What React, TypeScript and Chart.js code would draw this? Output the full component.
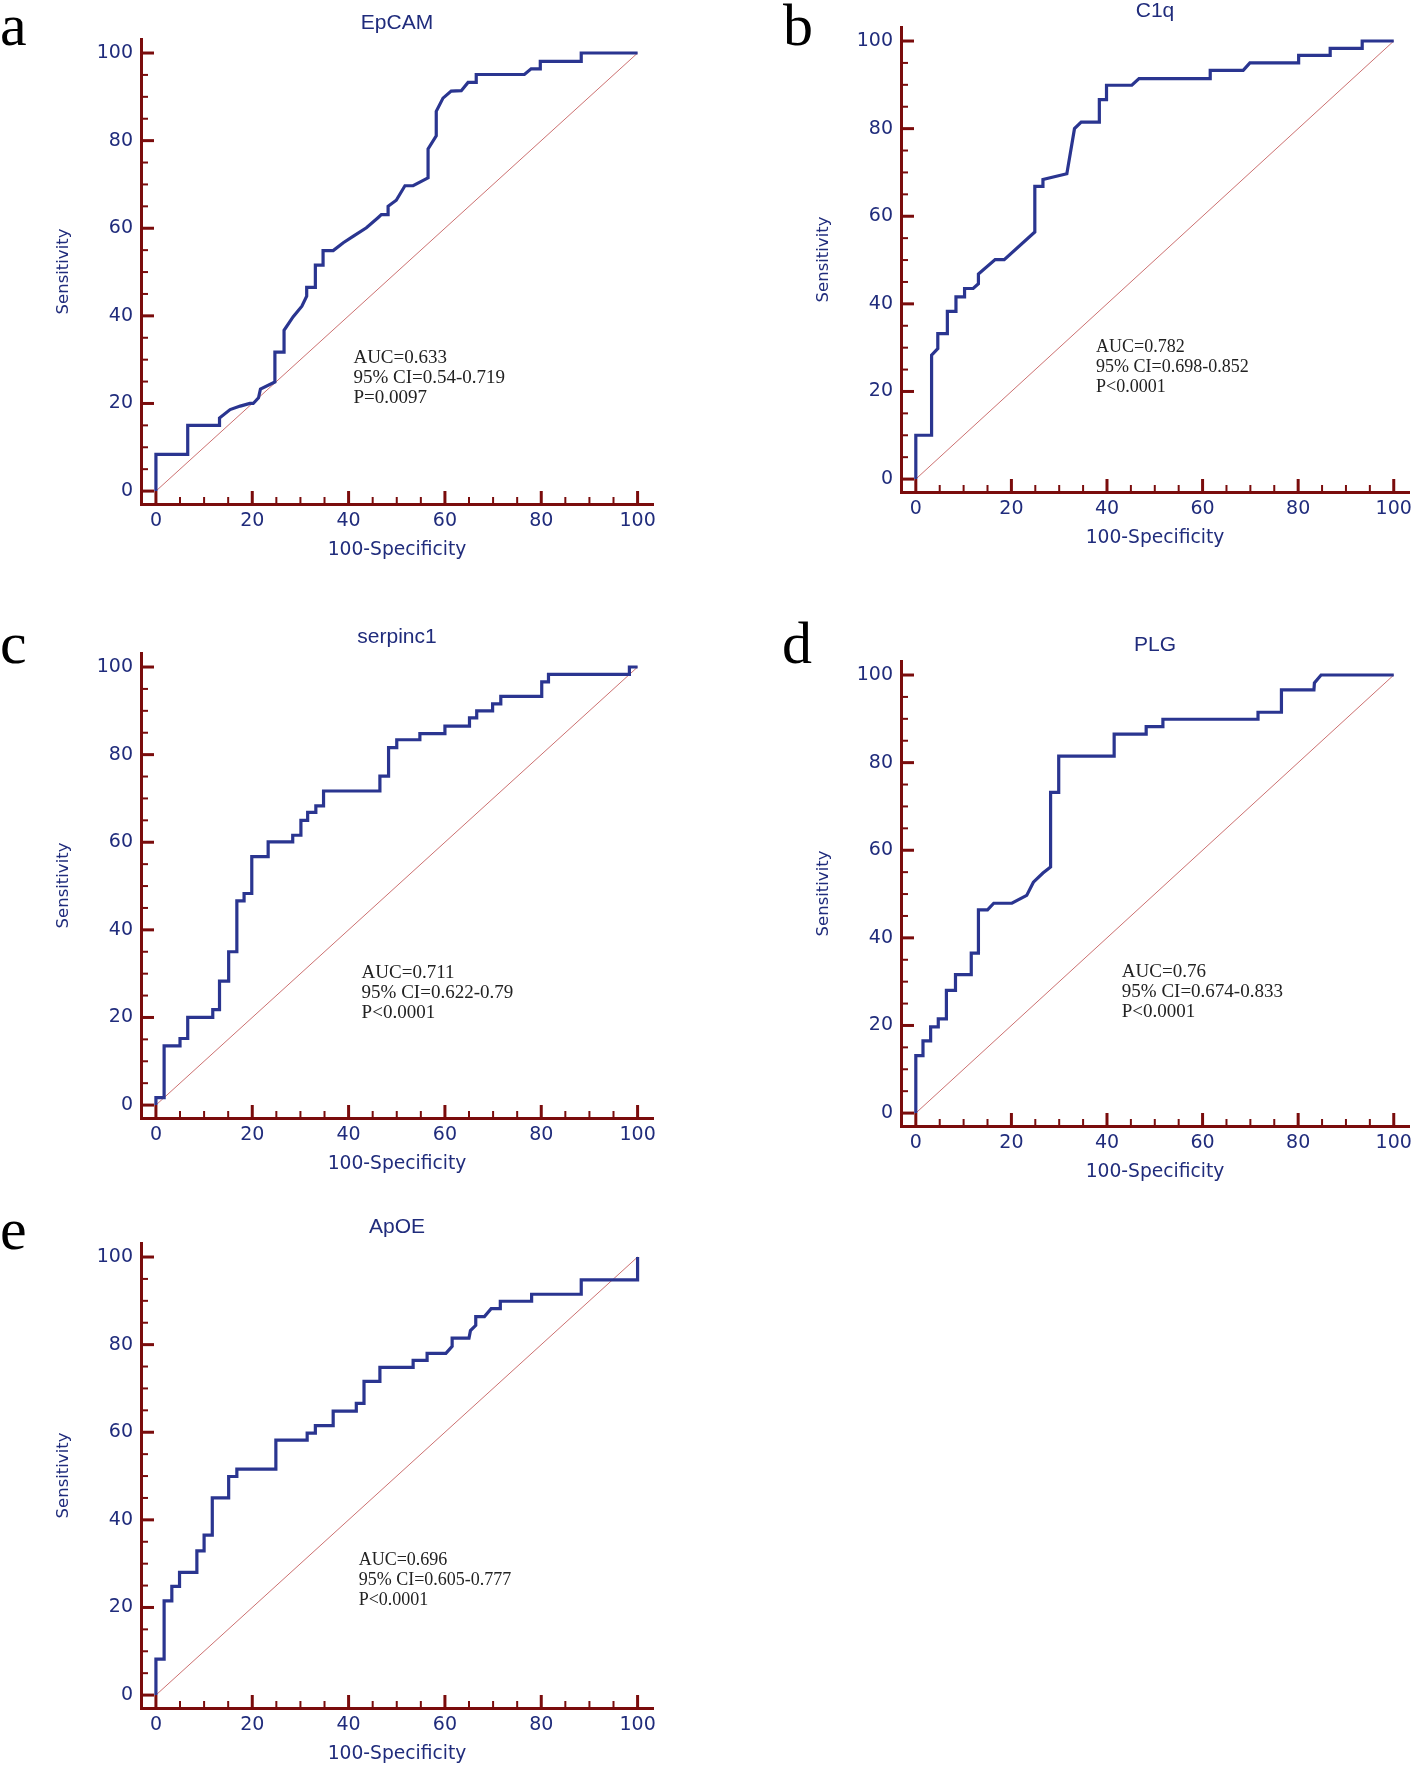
import React, { useEffect, useRef } from "react";
import { Chart, registerables } from "chart.js";

Chart.register(...registerables);

// ---------- data ----------
const tickValues = [0, 20, 40, 60, 80, 100];
const minorStep = 5;

const panelLetters = ["a", "b", "c", "d", "e"];
const panelTitles = ["EpCAM", "C1q", "serpinc1", "PLG", "ApOE"];
const aucTexts = ["AUC=0.633", "AUC=0.782", "AUC=0.711", "AUC=0.76", "AUC=0.696"];
const ciTexts = ["95% CI=0.54-0.719", "95% CI=0.698-0.852", "95% CI=0.622-0.79", "95% CI=0.674-0.833", "95% CI=0.605-0.777"];
const pTexts = ["P=0.0097", "P<0.0001", "P<0.0001", "P<0.0001", "P<0.0001"];

const epcamX = [0, 0, 6.6, 6.6, 13.2, 13.2, 15.4, 17.5, 19.5, 20.2, 21.3, 21.7, 24.7, 24.7, 26.6, 26.6, 28.5, 30.3, 31.3, 31.3, 33.1, 33.1, 34.7, 34.7, 36.8, 38.9, 41, 43.7, 46.1, 46.8, 48.2, 48.2, 49.9, 51.7, 53.4, 56.5, 56.5, 58.2, 58.2, 59.6, 61.3, 63.4, 64.8, 66.5, 66.5, 76.5, 77.9, 79.8, 79.8, 88.3, 88.3, 100];
const epcamY = [0, 8.4, 8.4, 15, 15, 16.7, 18.6, 19.4, 20, 20, 21.3, 23.3, 24.9, 31.7, 31.7, 36.7, 39.8, 42.2, 44.5, 46.5, 46.5, 51.6, 51.6, 54.9, 54.9, 56.7, 58.2, 60.1, 62.4, 63.1, 63.1, 65, 66.4, 69.7, 69.7, 71.5, 78.1, 81.1, 86.7, 89.7, 91.3, 91.4, 93.3, 93.3, 95.1, 95.1, 96.4, 96.4, 98.1, 98.1, 100, 100];

const c1qX = [0, 0, 3.3, 3.3, 4.6, 4.6, 6.6, 6.6, 8.4, 8.4, 10.2, 10.2, 12, 13.1, 13.1, 16.6, 18.5, 24.9, 24.9, 26.6, 26.6, 31.6, 33.2, 34.6, 38.4, 38.4, 39.9, 39.9, 45.2, 46.7, 61.6, 61.6, 68.5, 69.9, 80.1, 80.1, 86.7, 86.7, 93.4, 93.4, 100];
const c1qY = [0, 10, 10, 28.3, 29.8, 33.2, 33.2, 38.3, 38.3, 41.6, 41.6, 43.5, 43.5, 44.6, 46.8, 50.1, 50.1, 56.4, 66.8, 66.8, 68.4, 69.7, 80, 81.5, 81.5, 86.6, 86.6, 89.9, 89.9, 91.4, 91.4, 93.3, 93.3, 95, 95, 96.7, 96.7, 98.3, 98.3, 100, 100];

const serpinc1X = [0, 0, 1.7, 1.7, 5, 5, 6.6, 6.6, 11.8, 11.8, 13.2, 13.2, 15.1, 15.1, 16.8, 16.8, 18.3, 18.3, 19.9, 19.9, 23.3, 23.3, 28.4, 28.4, 30.1, 30.1, 31.5, 31.5, 33.2, 33.2, 34.8, 34.8, 46.5, 46.5, 48.3, 48.3, 50, 50, 54.8, 54.8, 60, 60, 65.1, 65.1, 66.6, 66.6, 69.9, 69.9, 71.6, 71.6, 80.1, 80.1, 81.5, 81.5, 98.3, 98.3, 100];
const serpinc1Y = [0, 1.7, 1.7, 13.5, 13.5, 15.2, 15.2, 20, 20, 21.8, 21.8, 28.3, 28.3, 35, 35, 46.6, 46.6, 48.3, 48.3, 56.7, 56.7, 60.1, 60.1, 61.6, 61.6, 65, 65, 66.8, 66.8, 68.3, 68.3, 71.7, 71.7, 75.1, 75.1, 81.6, 81.6, 83.4, 83.4, 84.8, 84.8, 86.5, 86.5, 88.4, 88.4, 90, 90, 91.6, 91.6, 93.3, 93.3, 96.6, 96.6, 98.3, 98.3, 100, 100];

const plgX = [0, 0, 1.5, 1.5, 3.1, 3.1, 4.7, 4.7, 6.4, 6.4, 8.3, 8.3, 11.6, 11.6, 13.1, 13.1, 15, 16.3, 20.1, 23.2, 24.6, 26.6, 28.2, 28.2, 29.9, 29.9, 41.5, 41.5, 48.2, 48.2, 51.7, 51.7, 71.6, 71.6, 76.5, 76.5, 83.3, 83.4, 84.8, 100];
const plgY = [0, 13.1, 13.1, 16.5, 16.5, 19.7, 19.7, 21.5, 21.5, 28, 28, 31.6, 31.6, 36.5, 36.5, 46.4, 46.4, 47.9, 47.9, 49.7, 52.7, 54.8, 56.2, 73.2, 73.2, 81.5, 81.5, 86.5, 86.5, 88.2, 88.2, 89.9, 89.9, 91.5, 91.5, 96.6, 96.6, 98.2, 100, 100];

const apoeX = [0, 0, 1.7, 1.7, 3.3, 3.3, 4.9, 4.9, 8.5, 8.5, 10, 10, 11.7, 11.7, 15.1, 15.1, 16.8, 16.8, 24.9, 24.9, 31.4, 31.4, 33.1, 33.1, 36.8, 36.8, 41.6, 41.6, 43.2, 43.2, 46.5, 46.5, 53.4, 53.4, 56.3, 56.3, 60.2, 61.5, 61.5, 65, 65.3, 66.4, 66.4, 68.2, 69.6, 71.5, 71.5, 78, 78, 88.3, 88.3, 100, 100];
const apoeY = [0, 8.2, 8.2, 21.5, 21.5, 24.8, 24.8, 28, 28, 32.9, 32.9, 36.5, 36.5, 45, 45, 49.9, 49.9, 51.6, 51.6, 58.2, 58.2, 59.8, 59.8, 61.5, 61.5, 64.8, 64.8, 66.6, 66.6, 71.6, 71.6, 74.8, 74.8, 76.4, 76.4, 78, 78, 79.6, 81.5, 81.5, 83.2, 84.4, 86.4, 86.4, 88.2, 88.2, 89.9, 89.9, 91.5, 91.5, 94.8, 94.8, 100];

const curveXs = [epcamX, c1qX, serpinc1X, plgX, apoeX];
const curveYs = [epcamY, c1qY, serpinc1Y, plgY, apoeY];
const diagX = [0, 100];
const diagY = [0, 100];

// ---------- layout & style ----------
const NAVY = "#202C7C";
const CURVE = "#2A3590";
const MAROON = "#7A0C0C";
const DIAG = "rgba(198,96,96,0.9)";

const CW = 709;
const CH = 565;
const panels = [
  { left: 0, top: -1, padL: 41, padR: 56, letter: [0, 45], ann: [41, 29.3], annSize: 19 },
  { left: 709, top: -13, padL: 92, padR: 4, letter: [783, 45], ann: [37.7, 29.0], annSize: 18 },
  { left: 0, top: 613, padL: 41, padR: 56, letter: [0, 663], ann: [42.7, 28.9], annSize: 19 },
  { left: 709, top: 621, padL: 92, padR: 4, letter: [782, 663], ann: [43.1, 31.0], annSize: 19 },
  { left: 0, top: 1203, padL: 41, padR: 56, letter: [0, 1249], ann: [42.1, 29.6], annSize: 18 },
];

function RocPanel({ index }: { index: number }) {
  const ref = useRef<HTMLCanvasElement | null>(null);
  const cfg = panels[index];

  useEffect(() => {
    if (!ref.current) return;
    const xs = curveXs[index];
    const ys = curveYs[index];
    const curve = xs.map((x, i) => ({ x, y: ys[i] }));
    const diag = diagX.map((x, i) => ({ x, y: diagY[i] }));

    const decor = {
      id: "decor" + index,
      beforeDatasetsDraw(chart: any) {
        const { ctx, chartArea } = chart;
        const sx = chart.scales.x;
        const sy = chart.scales.y;
        ctx.save();
        ctx.strokeStyle = MAROON;
        for (let v = 0; v <= 100; v += minorStep) {
          const major = v % 20 === 0;
          ctx.lineWidth = major ? 3 : 2;
          const len = major ? 13 : 7;
          const px = sx.getPixelForValue(v);
          ctx.beginPath();
          ctx.moveTo(px, chartArea.bottom);
          ctx.lineTo(px, chartArea.bottom - len);
          ctx.stroke();
          const py = sy.getPixelForValue(v);
          ctx.beginPath();
          ctx.moveTo(chartArea.left, py);
          ctx.lineTo(chartArea.left + len, py);
          ctx.stroke();
        }
        ctx.restore();
      },
      afterDraw(chart: any) {
        const { ctx, chartArea } = chart;
        const sx = chart.scales.x;
        const sy = chart.scales.y;
        ctx.save();
        ctx.fillStyle = NAVY;
        ctx.font = "21px 'Liberation Sans', Arial, sans-serif";
        ctx.textAlign = "center";
        ctx.textBaseline = "alphabetic";
        ctx.fillText(panelTitles[index], (chartArea.left + chartArea.right) / 2, chartArea.top - 10);
        ctx.fillStyle = "#000";
        ctx.font = "60px 'Liberation Serif', 'Times New Roman', serif";
        ctx.textAlign = "left";
        ctx.fillText(panelLetters[index], cfg.letter[0] - cfg.left, cfg.letter[1] - cfg.top);
        ctx.fillStyle = "#222";
        ctx.font = cfg.annSize + "px 'Liberation Serif', 'Times New Roman', serif";
        const ax = sx.getPixelForValue(cfg.ann[0]);
        const ay = sy.getPixelForValue(cfg.ann[1]);
        [aucTexts[index], ciTexts[index], pTexts[index]].forEach((t, i) => {
          ctx.fillText(t, ax, ay + i * 20);
        });
        ctx.restore();
      },
    };

    const chart = new Chart(ref.current, {
      type: "line",
      data: {
        datasets: [
          { data: diag, borderColor: DIAG, borderWidth: 1, pointRadius: 0, tension: 0, order: 2 },
          {
            data: curve,
            borderColor: CURVE,
            borderWidth: 3.2,
            pointRadius: 0,
            tension: 0,
            order: 1,
            borderJoinStyle: "miter",
          },
        ],
      } as any,
      options: {
        animation: false,
        responsive: false,
        devicePixelRatio: 1,
        parsing: false as any,
        events: [],
        layout: {
          autoPadding: false,
          padding: { left: cfg.padL, right: cfg.padR, top: 40, bottom: 0 },
        } as any,
        plugins: {
          legend: { display: false },
          title: { display: false },
          tooltip: { enabled: false },
        },
        scales: {
          x: {
            type: "linear",
            min: -3.1,
            max: 103.2,
            afterBuildTicks: (s: any) => {
              s.ticks = tickValues.map((v) => ({ value: v }));
            },
            afterFit: (s: any) => {
              s.height = 60;
            },
            grid: { display: false, drawTicks: false },
            border: { display: true, color: MAROON, width: 3 },
            ticks: {
              color: NAVY,
              font: { family: "'DejaVu Sans'", size: 19 },
              padding: 6,
              autoSkip: false,
              maxRotation: 0,
            },
            title: {
              display: true,
              text: "100-Specificity",
              color: NAVY,
              font: { family: "'DejaVu Sans'", size: 18.7 },
              padding: { top: 0, bottom: 3 },
            },
          },
          y: {
            type: "linear",
            min: -2.95,
            max: 103.2,
            afterBuildTicks: (s: any) => {
              s.ticks = tickValues.map((v) => ({ value: v }));
            },
            afterFit: (s: any) => {
              s.width = 100;
            },
            grid: { display: false, drawTicks: false },
            border: { display: true, color: MAROON, width: 3 },
            ticks: {
              color: NAVY,
              font: { family: "'DejaVu Sans'", size: 19 },
              padding: 8,
              autoSkip: false,
            },
            title: {
              display: true,
              text: "Sensitivity",
              color: NAVY,
              font: { family: "'DejaVu Sans'", size: 16.5 },
              padding: { top: 13, bottom: 0 },
            },
          },
        } as any,
      },
      plugins: [decor],
    });
    return () => chart.destroy();
  }, [index]);

  return (
    <canvas
      ref={ref}
      width={CW}
      height={CH}
      style={{ position: "absolute", left: cfg.left, top: cfg.top, width: CW, height: CH }}
    />
  );
}

export default function App() {
  return (
    <div
      style={{
        position: "absolute",
        left: 0,
        top: 0,
        width: 1418,
        height: 1768,
        overflow: "hidden",
        background: "#fff",
      }}
    >
      {panels.map((_, i) => (
        <RocPanel key={i} index={i} />
      ))}
    </div>
  );
}
